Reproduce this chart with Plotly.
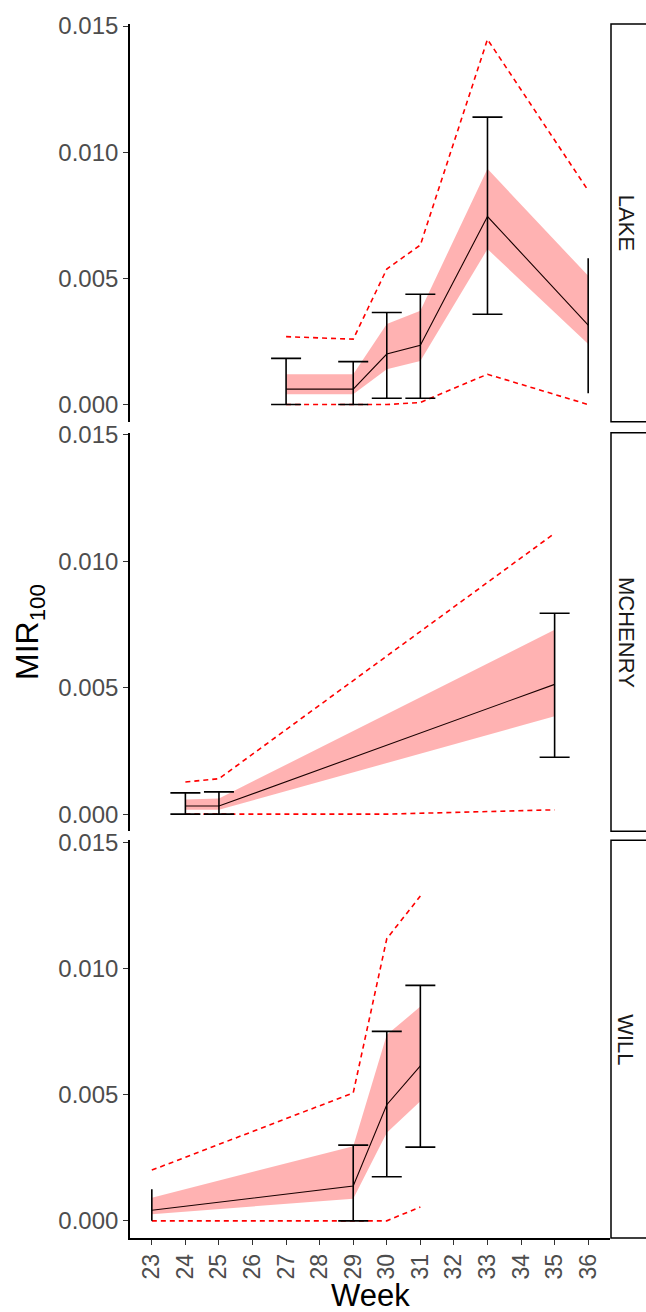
import plotly.graph_objects as go

# ---------------- data ----------------
panels = ["LAKE", "MCHENRY", "WILL"]

weeks_lake = [27, 29, 30, 31, 33, 36]
mean_lake = [0.00061, 0.00061, 0.00200, 0.00235, 0.00745, 0.00315]
rib_lo_lake = [0.00041, 0.00041, 0.00140, 0.00173, 0.00616, 0.00240]
rib_hi_lake = [0.00120, 0.00120, 0.00319, 0.00372, 0.00934, 0.00510]
err_lo_lake = [0.0, 0.0, 0.00025, 0.00025, 0.00358, 0.00045]
err_hi_lake = [0.00183, 0.00170, 0.00365, 0.00437, 0.01139, 0.00580]
cap_lake = [True, True, True, True, True, False]
dash_hi_weeks_lake = [27, 29, 30, 31, 33, 36]
dash_hi_lake = [0.00269, 0.00259, 0.00537, 0.00632, 0.01447, 0.00848]
dash_lo_weeks_lake = [27, 29, 30, 31, 33, 36]
dash_lo_lake = [0.0, 0.0, 0.0, 0.00008, 0.00120, 0.0]

weeks_mch = [24, 25, 35]
mean_mch = [0.00032, 0.00032, 0.00513]
rib_lo_mch = [0.00017, 0.00017, 0.00387]
rib_hi_mch = [0.00058, 0.00062, 0.00729]
err_lo_mch = [0.0, 0.0, 0.00225]
err_hi_mch = [0.00084, 0.00088, 0.00794]
cap_mch = [True, True, True]
dash_hi_weeks_mch = [24, 25, 35]
dash_hi_mch = [0.00127, 0.00140, 0.01110]
dash_lo_weeks_mch = [24, 25, 30, 35]
dash_lo_mch = [0.0, 0.0, 0.0, 0.00017]

weeks_will = [23, 29, 30, 31]
mean_will = [0.00042, 0.00138, 0.00460, 0.00614]
rib_lo_will = [0.00026, 0.00088, 0.00349, 0.00474]
rib_hi_will = [0.00092, 0.00296, 0.00737, 0.00849]
err_lo_will = [0.0, 0.0, 0.00175, 0.00292]
err_hi_will = [0.00125, 0.00300, 0.00751, 0.00933]
cap_will = [False, True, True, True]
dash_hi_weeks_will = [23, 29, 30, 31]
dash_hi_will = [0.00201, 0.00507, 0.01118, 0.01287]
dash_lo_weeks_will = [23, 29, 30, 31]
dash_lo_will = [0.0, 0.0, 0.0, 0.00055]

week_ticks = list(range(23, 37))
y_ticks = [0.0, 0.005, 0.010, 0.015]

data = [
    (weeks_lake, mean_lake, rib_lo_lake, rib_hi_lake, err_lo_lake, err_hi_lake, cap_lake,
     dash_hi_weeks_lake, dash_hi_lake, dash_lo_weeks_lake, dash_lo_lake),
    (weeks_mch, mean_mch, rib_lo_mch, rib_hi_mch, err_lo_mch, err_hi_mch, cap_mch,
     dash_hi_weeks_mch, dash_hi_mch, dash_lo_weeks_mch, dash_lo_mch),
    (weeks_will, mean_will, rib_lo_will, rib_hi_will, err_lo_will, err_hi_will, cap_will,
     dash_hi_weeks_will, dash_hi_will, dash_lo_weeks_will, dash_lo_will),
]

# ---------------- layout geometry ----------------
W, H = 646, 1312
ML, MR, MT, MB = 130, 36, 20, 74
plot_h = H - MT - MB
# panel pixel extents (top, bottom)
panel_px = [(20, 419), (430, 830), (839, 1238)]


def py(p):
    return (H - MB - p) / plot_h


domains = [[py(b), py(t)] for (t, b) in panel_px]

fig = go.Figure()
FONT = "Liberation Sans, Arial, sans-serif"

for i, d in enumerate(data):
    (wk, mn, rlo, rhi, elo, ehi, cap, dhw, dhi, dlw, dlo) = d
    xa = "x" if i == 0 else f"x{i+1}"
    ya = "y" if i == 0 else f"y{i+1}"
    # ribbon
    fig.add_trace(go.Scatter(
        x=list(wk) + list(wk)[::-1], y=list(rhi) + list(rlo)[::-1],
        fill="toself", fillcolor="rgba(255,0,0,0.3)", line=dict(width=0),
        mode="lines", hoverinfo="skip", showlegend=False, xaxis=xa, yaxis=ya))
    # dashed bounds
    fig.add_trace(go.Scatter(x=dhw, y=dhi, mode="lines",
                             line=dict(color="red", width=1.6, dash="5px,4px"),
                             showlegend=False, xaxis=xa, yaxis=ya))
    fig.add_trace(go.Scatter(x=dlw, y=dlo, mode="lines",
                             line=dict(color="red", width=1.6, dash="5px,4px"),
                             showlegend=False, xaxis=xa, yaxis=ya))
    # mean line
    fig.add_trace(go.Scatter(x=wk, y=mn, mode="lines",
                             line=dict(color="#1a0000", width=1.1),
                             showlegend=False, xaxis=xa, yaxis=ya))
    # error bars (capped / uncapped)
    for want_cap, w in [(True, 15), (False, 0)]:
        idx = [k for k in range(len(wk)) if cap[k] == want_cap]
        if not idx:
            continue
        fig.add_trace(go.Scatter(
            x=[wk[k] for k in idx], y=[mn[k] for k in idx], mode="markers",
            marker=dict(size=1, opacity=0),
            error_y=dict(type="data", symmetric=False,
                         array=[ehi[k] - mn[k] for k in idx],
                         arrayminus=[mn[k] - elo[k] for k in idx],
                         color="black", thickness=1.6, width=w),
            showlegend=False, xaxis=xa, yaxis=ya))

layout = dict(
    width=W, height=H,
    margin=dict(l=ML, r=MR, t=MT, b=MB),
    paper_bgcolor="white", plot_bgcolor="white",
    font=dict(family=FONT, color="#4D4D4D"),
    showlegend=False,
)

for i in range(3):
    xk = "xaxis" if i == 0 else f"xaxis{i+1}"
    yk = "yaxis" if i == 0 else f"yaxis{i+1}"
    xa = "x" if i == 0 else f"x{i+1}"
    ya = "y" if i == 0 else f"y{i+1}"
    bottom = (i == 2)
    layout[xk] = dict(
        domain=[0, 1], anchor=ya, range=[22.35, 36.65],
        tickmode="array", tickvals=week_ticks, ticktext=[str(v) for v in week_ticks],
        tickangle=-90, showticklabels=bottom, ticks="outside" if bottom else "",
        ticklen=5, tickwidth=1.3, tickcolor="#333333",
        showline=bottom, linecolor="black", linewidth=1.6,
        showgrid=False, zeroline=False,
        tickfont=dict(size=23, color="#4D4D4D", family=FONT),
    )
    if i > 0:
        layout[xk]["matches"] = "x"
    layout[yk] = dict(
        domain=domains[i], anchor=xa, range=[-0.00068, 0.01508],
        tickmode="array", tickvals=y_ticks, ticktext=[f"{v:.3f}" for v in y_ticks],
        ticks="outside", ticklen=5, tickwidth=1.3, tickcolor="#333333",
        showline=True, linecolor="black", linewidth=1.6,
        showgrid=False, zeroline=False,
        tickfont=dict(size=24, color="#4D4D4D", family=FONT),
    )

fig.update_layout(**layout)

plot_w = W - ML - MR
shapes = []
annotations = []
for i, name in enumerate(panels):
    y0, y1 = domains[i]
    shapes.append(dict(type="rect", xref="paper", yref="paper",
                       x0=1.0 + 1 / plot_w, x1=1.0 + 60 / plot_w, y0=y0, y1=y1,
                       line=dict(color="black", width=1.5), fillcolor="white", layer="below"))
    annotations.append(dict(text=name, xref="paper", yref="paper",
                            x=1.0 + 16 / plot_w, y=(y0 + y1) / 2, showarrow=False,
                            textangle=90, xanchor="center", yanchor="middle",
                            font=dict(size=22, color="#1A1A1A", family=FONT)))

annotations.append(dict(text="MIR<sub>100</sub>", xref="paper", yref="paper",
                        x=(30 - ML) / plot_w, y=py(630), showarrow=False, textangle=-90,
                        xanchor="center", yanchor="middle",
                        font=dict(size=32, color="black", family=FONT)))
annotations.append(dict(text="Week", xref="paper", yref="paper",
                        x=0.5, y=py(1296), showarrow=False,
                        xanchor="center", yanchor="middle",
                        font=dict(size=31, color="black", family=FONT)))

fig.update_layout(shapes=shapes, annotations=annotations)
fig.write_html("out.html")
